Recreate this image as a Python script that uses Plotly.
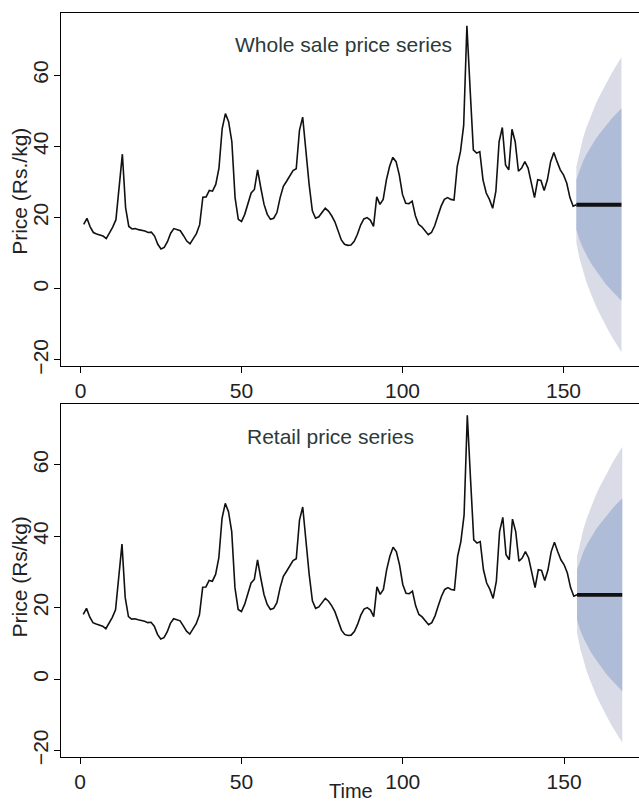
import plotly.graph_objects as go

# ---------------- data ----------------
time = list(range(1, 154))
wholesale = [
    18.1, 19.8, 17.4, 15.8, 15.4, 15.0, 14.8, 14.1, 15.6, 17.3,
    19.4, 28.5, 37.8, 22.8, 17.5, 16.8, 16.9, 16.6, 16.5, 16.2,
    15.8, 15.9, 14.8, 12.5, 11.2, 11.6, 13.2, 15.6, 16.9, 16.6,
    16.3, 14.9, 13.4, 12.6, 14.0, 15.5, 18.0, 25.7, 25.8, 27.6,
    27.4, 29.3, 33.9, 45.0, 49.2, 46.9, 41.3, 25.6, 19.5, 18.9,
    20.9, 24.2, 26.9, 27.9, 33.4, 28.3, 23.7, 20.9, 19.5, 19.8,
    21.4, 25.6, 28.8, 30.2, 31.6, 33.2, 33.7, 44.5, 48.2, 38.5,
    29.3, 21.9, 19.8, 20.2, 21.5, 22.6, 21.8, 20.5, 18.8, 16.3,
    13.7, 12.5, 12.2, 12.3, 13.3, 15.3, 17.9, 19.6, 20.0, 19.3,
    17.5, 25.8, 23.7, 25.1, 30.6, 34.4, 36.9, 35.7, 32.0, 26.5,
    24.0, 23.9, 24.6, 20.5, 18.1, 17.4, 16.3, 15.2, 15.8, 17.7,
    20.5, 23.2, 25.1, 25.6, 25.1, 24.9, 34.4, 38.5, 45.9, 73.9,
    56.0, 39.0, 38.1, 38.5, 30.6, 26.9, 25.1, 22.6, 27.4, 41.3,
    45.3, 34.8, 33.4, 44.8, 41.3, 33.0, 33.9, 35.7, 33.9, 29.3,
    25.6, 30.6, 30.4, 27.6, 30.6, 35.7, 38.3, 35.7, 33.4, 32.0,
    29.7, 25.6, 23.2,
]
retail = list(wholesale)

fc_time = list(range(154, 169))
fc_mean = [23.6] * 15
hi80 = [30.6, 33.5, 35.7, 37.6, 39.2, 40.7, 42.1, 43.3, 44.5, 45.7, 46.8, 47.8, 48.8, 49.7, 50.6]
lo80 = [16.6, 13.7, 11.5, 9.6, 8.0, 6.5, 5.1, 3.9, 2.7, 1.5, 0.4, -0.6, -1.6, -2.5, -3.4]
hi95 = [34.3, 38.7, 42.1, 45.0, 47.5, 49.8, 51.9, 53.8, 55.6, 57.4, 59.0, 60.6, 62.1, 63.6, 65.0]
lo95 = [12.9, 8.5, 5.1, 2.2, -0.3, -2.6, -4.7, -6.6, -8.4, -10.2, -11.8, -13.4, -14.9, -16.4, -17.8]

x_ticks = [0, 50, 100, 150]
y_ticks = [-20, 0, 20, 40, 60]

titles = ["Whole sale price series", "Retail price series"]
ylabels = ["Price (Rs./kg)", "Price (Rs/kg)"]

# ---------------- styling ----------------
W, H = 639, 812
FONT = "Liberation Sans, Arial, sans-serif"
OUTER = "#D9DCE6"
INNER = "#AFBCD7"
LINE = "#111111"

fig = go.Figure()

panels = [
    dict(series=wholesale, xa="x", ya="y"),
    dict(series=retail, xa="x2", ya="y2"),
]
for p in panels:
    fig.add_trace(go.Scatter(
        x=fc_time + fc_time[::-1], y=hi95 + lo95[::-1], fill="toself",
        fillcolor=OUTER, line=dict(width=0), mode="lines", hoverinfo="skip",
        xaxis=p["xa"], yaxis=p["ya"], showlegend=False))
    fig.add_trace(go.Scatter(
        x=fc_time + fc_time[::-1], y=hi80 + lo80[::-1], fill="toself",
        fillcolor=INNER, line=dict(width=0), mode="lines", hoverinfo="skip",
        xaxis=p["xa"], yaxis=p["ya"], showlegend=False))
    fig.add_trace(go.Scatter(
        x=time + fc_time[:1], y=p["series"] + fc_mean[:1], mode="lines",
        line=dict(color=LINE, width=1.6), xaxis=p["xa"], yaxis=p["ya"],
        showlegend=False))
    fig.add_trace(go.Scatter(
        x=fc_time, y=fc_mean, mode="lines",
        line=dict(color=LINE, width=3.8), xaxis=p["xa"], yaxis=p["ya"],
        showlegend=False))

axis_common = dict(
    showline=True, linecolor="black", linewidth=1.4,
    ticks="outside", ticklen=6, tickwidth=1.3, tickcolor="black",
    showgrid=False, zeroline=False,
    tickfont=dict(family=FONT, size=21, color="#222222"),
)

top_dom = [1 - 370 / H, 1 - 13 / H]
bot_dom = [1 - 765 / H, 1 - 408.3 / H]
x_dom = [61 / W, 1.0]

fig.update_layout(
    width=W, height=H, autosize=False,
    margin=dict(l=0, r=0, t=0, b=0),
    paper_bgcolor="white", plot_bgcolor="white",
    xaxis=dict(axis_common, domain=x_dom, range=[-6.06, 173.45], anchor="y",
               tickvals=x_ticks, mirror=True),
    yaxis=dict(axis_common, domain=top_dom, range=[-21.67, 77.5], anchor="x",
               tickvals=y_ticks, tickangle=-90, mirror=False,
               ticklabelstandoff=-3),
    xaxis2=dict(axis_common, domain=x_dom, range=[-5.9, 173.2], anchor="y2",
                tickvals=x_ticks, mirror=True),
    yaxis2=dict(axis_common, domain=bot_dom, range=[-21.7, 77.1], anchor="x2",
                tickvals=y_ticks, tickangle=-90, mirror=False,
                ticklabelstandoff=-3),
)

# panel titles
title_pos = [(343 / W, 1 - 45 / H), (330 / W, 1 - 441.7 / H)]
for txt, (tx, ty) in zip(titles, title_pos):
    fig.add_annotation(x=tx, y=ty, xref="paper", yref="paper", text=txt,
                       showarrow=False, xanchor="center", yanchor="middle",
                       font=dict(family=FONT, size=21, color="#2B3A3A"))

# y-axis titles
ylab_pos = [1 - 194 / H, 1 - 584 / H]
for txt, ty in zip(ylabels, ylab_pos):
    fig.add_annotation(x=20 / W, y=ty, xref="paper", yref="paper", text=txt,
                       textangle=-90, showarrow=False, xanchor="center",
                       yanchor="middle",
                       font=dict(family=FONT, size=21, color="#222222"))

# x-axis title
fig.add_annotation(x=351 / W, y=0, xref="paper", yref="paper",
                   text="Time", showarrow=False, xanchor="center",
                   yanchor="bottom", borderpad=0,
                   font=dict(family=FONT, size=20, color="#222222"))

fig.write_html("out.html")
